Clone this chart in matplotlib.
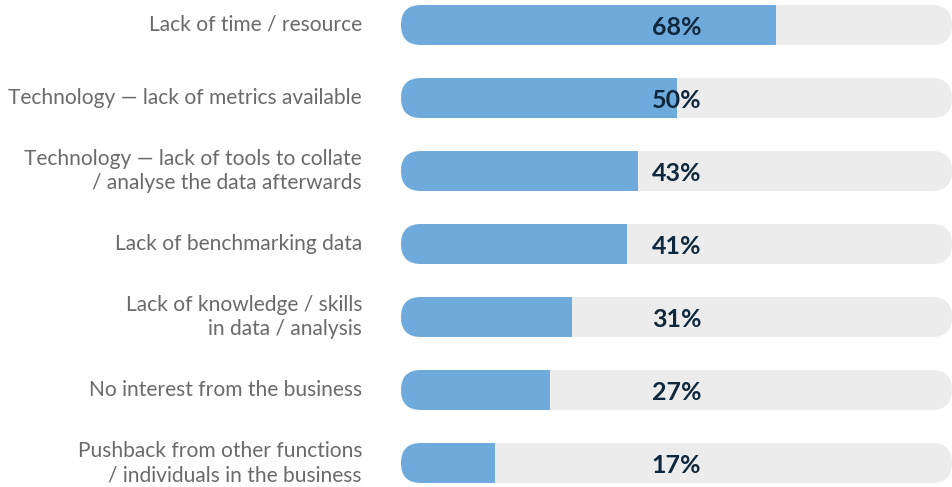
import matplotlib
matplotlib.use("Agg")
import matplotlib.pyplot as plt
from matplotlib.patches import FancyBboxPatch, Rectangle

categories = [
    "Lack of time / resource",
    "Technology \u2014 lack of metrics available",
    "Technology \u2014 lack of tools to collate\n/ analyse the data afterwards",
    "Lack of benchmarking data",
    "Lack of knowledge / skills\nin data / analysis",
    "No interest from the business",
    "Pushback from other functions\n/ individuals in the business",
]
values = [68, 50, 43, 41, 31, 27, 17]
value_labels = ["68%", "50%", "43%", "41%", "31%", "27%", "17%"]

W, H = 952, 487
fig = plt.figure(figsize=(W / 100, H / 100), dpi=100)
left_px, right_px = 401, 952
ax = fig.add_axes([left_px / W, 0, (right_px - left_px) / W, 1])
ax.set_xlim(0, 100)
row_px = 73.0
first_px = 25.0
ax.set_ylim((H - first_px) / row_px, -first_px / row_px)
ax.axis("off")

bar_h_px = 40.0
bh = bar_h_px / row_px
px_per_x = (right_px - left_px) / 100.0
rx = (bar_h_px / 2) / px_per_x
aspect = (1 / row_px) / (1 / px_per_x)

BLUE = "#6eabdc"
TRACK = "#ececec"
GREY = "#6a6a6a"
NAVY = "#10283d"

for i, (v, lab) in enumerate(zip(values, value_labels)):
    track = FancyBboxPatch((0, i - bh / 2), 100, bh,
                           boxstyle=f"round,pad=0,rounding_size={rx}",
                           mutation_aspect=aspect, fc=TRACK, ec="none",
                           clip_on=False)
    ax.add_patch(track)
    bar = FancyBboxPatch((0, i - bh / 2), v, bh,
                         boxstyle=f"round,pad=0,rounding_size={rx}",
                         mutation_aspect=aspect, fc=BLUE, ec="none",
                         clip_on=False)
    ax.add_patch(bar)
    ax.add_patch(Rectangle((v - rx, i - bh / 2), rx, bh, fc=BLUE, ec="none"))
    ax.text(50, i + 0.03, lab, ha="center", va="center", fontsize=18,
            color=NAVY, family="Lato", fontweight="bold")
    ax.text(-(401 - 362) / px_per_x, i, categories[i], ha="right", va="center",
            fontsize=15.1, color=GREY, family="Lato", fontweight="normal",
            linespacing=1.3, multialignment="right")

fig.savefig("out.png", dpi=100, facecolor="white")
